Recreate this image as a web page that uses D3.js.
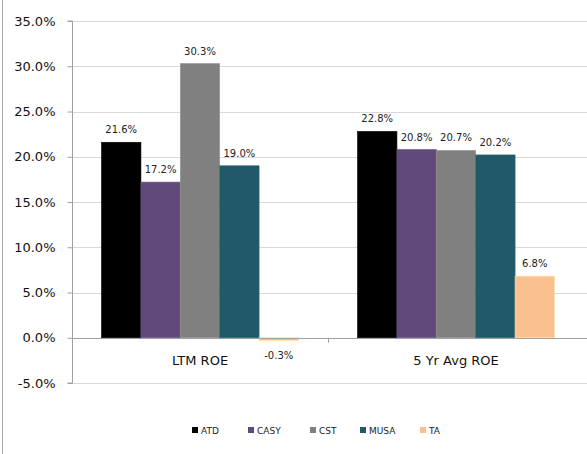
<!DOCTYPE html>
<html>
<head>
<meta charset="utf-8">
<script src="https://cdn.jsdelivr.net/npm/d3@7"></script>
<style>
  body { margin: 0; background: #fff; }
  svg { display: block; }
</style>
</head>
<body>
<svg id="chart" width="587" height="454"></svg>
<script>
// chart values
const categories = ['LTM ROE', '5 Yr Avg ROE'];
const seriesNames = ['ATD', 'CASY', 'CST', 'MUSA', 'TA'];
const seriesColors = ['#000000', '#604a7b', '#808080', '#215968', '#fac090'];
const ltmValues = [21.6, 17.2, 30.3, 19.0, -0.3];
const avgValues = [22.8, 20.8, 20.7, 20.2, 6.8];
const yTicks = [-5, 0, 5, 10, 15, 20, 25, 30, 35];

const values = [ltmValues, avgValues];

const svg = d3.select('#chart');
const font = 'Verdana, "DejaVu Sans", sans-serif';

// outer frame line on the left
svg.append('line')
    .attr('x1', 2.5).attr('x2', 2.5)
    .attr('y1', 0).attr('y2', 454)
    .attr('stroke', '#a6a6a6');

let y = d3.scaleLinear().domain([-5, 35]).range([383, 21]);
let x0 = d3.scaleBand().domain(categories).range([72, 584]).paddingInner(0).paddingOuter(0);
let x1 = d3.scaleBand().domain(seriesNames).range([0, x0.bandwidth()]).paddingOuter(0.75);

// gridlines
svg.append('g')
    .selectAll('line')
    .data(yTicks.filter(t => t !== 0))
    .join('line')
    .attr('x1', 72).attr('x2', 587)
    .attr('y1', d => Math.round(y(d)) + 0.5)
    .attr('y2', d => Math.round(y(d)) + 0.5)
    .attr('stroke', '#d9d9d9');

// bars
let groups = svg.append('g')
    .selectAll('g')
    .data(categories)
    .join('g')
    .attr('transform', d => `translate(${x0(d)},0)`);

groups.selectAll('rect')
    .data((c, ci) => seriesNames.map((s, si) => ({s, si, v: values[ci][si]})))
    .join('rect')
    .attr('x', d => x1(d.s))
    .attr('width', x1.bandwidth())
    .attr('y', d => y(Math.max(0, d.v)))
    .attr('height', d => Math.abs(y(d.v) - y(0)))
    .attr('fill', d => seriesColors[d.si])
    .attr('stroke', d => d3.color(seriesColors[d.si]).brighter(0.4))
    .attr('stroke-width', 0.6);

groups.selectAll('text')
    .data((c, ci) => seriesNames.map((s, si) => ({s, si, v: values[ci][si]})))
    .join('text')
    .attr('x', d => x1(d.s) + x1.bandwidth() / 2)
    .attr('y', d => d.v >= 0 ? y(d.v) - 9 : y(0) + 21)
    .attr('text-anchor', 'middle')
    .attr('font-family', font)
    .attr('font-size', 10)
    .attr('fill', '#222')
    .text(d => d.v.toFixed(1) + '%');

// zero line
svg.append('line')
    .attr('x1', 72).attr('x2', 587)
    .attr('y1', Math.round(y(0)) + 0.5).attr('y2', Math.round(y(0)) + 0.5)
    .attr('stroke', '#a0a0a0');

// category tick between groups
svg.append('line')
    .attr('x1', x0(categories[1]) + 0.5).attr('x2', x0(categories[1]) + 0.5)
    .attr('y1', y(0)).attr('y2', y(0) + 5)
    .attr('stroke', '#a0a0a0');

// y axis
let yAxis = d3.axisLeft(y)
    .tickValues(yTicks)
    .tickSize(5)
    .tickPadding(12)
    .tickFormat(d => d.toFixed(1) + '%');

let ag = svg.append('g')
    .attr('transform', 'translate(72.5,0)')
    .call(yAxis);
ag.select('.domain').attr('stroke', '#a0a0a0').attr('d', `M-5,${y(35)}H0V${y(-5)}H-5`);
ag.selectAll('.tick line').attr('stroke', '#a0a0a0');
ag.selectAll('.tick text')
    .attr('font-family', font)
    .attr('font-size', 13)
    .attr('fill', '#111');

// category labels
svg.append('g')
    .selectAll('text')
    .data(categories)
    .join('text')
    .attr('x', d => x0(d) + x0.bandwidth() / 2)
    .attr('y', 365)
    .attr('text-anchor', 'middle')
    .attr('font-family', font)
    .attr('font-size', 13)
    .attr('fill', '#111')
    .text(d => d);

// legend
const legendX = [192, 248, 310, 360, 420];
let legend = svg.append('g')
    .selectAll('g')
    .data(seriesNames)
    .join('g')
    .attr('transform', (d, i) => `translate(${legendX[i]},427)`);

legend.append('rect')
    .attr('width', 6).attr('height', 6)
    .attr('fill', (d, i) => seriesColors[i]);

legend.append('text')
    .attr('x', 9).attr('y', 6.5)
    .attr('font-family', font)
    .attr('font-size', 9)
    .attr('fill', '#222')
    .text(d => d);
</script>
</body>
</html>
